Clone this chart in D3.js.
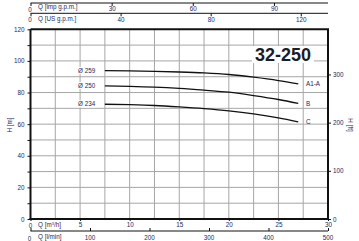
<!DOCTYPE html>
<html><head><meta charset="utf-8">
<script src="https://cdn.jsdelivr.net/npm/d3@7"></script>
<style>
html,body{margin:0;padding:0;background:#fff;}
svg{display:block;font-family:"Liberation Sans",Arial,sans-serif;}
</style></head>
<body>
<svg id="c" width="359" height="241"></svg>
<script>
// ---- data ----
const flowQ = [7.5, 10, 12.5, 15, 17.5, 20, 22.5, 25, 27];
const head259 = [93.8, 93.7, 93.4, 93.0, 92.4, 91.4, 89.7, 87.6, 85.5];
const head250 = [84.2, 83.9, 83.4, 82.6, 81.5, 80.2, 78.1, 75.6, 73.1];
const head234 = [72.6, 72.3, 71.8, 70.9, 69.8, 68.4, 66.5, 64.0, 61.5];
const curveNames = ["Ø 259", "Ø 250", "Ø 234"];
const curveTags = ["A1-A", "B", "C"];
const m3hTicks = [0, 5, 10, 15, 20, 25, 30];
const lminTicks = [0, 100, 200, 300, 400, 500];
const impTicks = [0, 30, 60, 90];
const usTicks = [0, 40, 80, 120];
const hmTicks = [0, 20, 40, 60, 80, 100, 120];
const hftTicks = [0, 100, 200, 300];
const title = "32-250";

// ---- layout ----
const svg = d3.select("#c");
const L = 30.5, R = 328, T = 29.3, B = 219;
const txt = "#23285a";
const fs = 6.3;
const x = d3.scaleLinear().domain([0, 30]).range([L, R]);
const y = d3.scaleLinear().domain([0, 120]).range([B, T]);
const xL = d3.scaleLinear().domain([0, 30 / 0.06]).range([L, R]);
const xImp = d3.scaleLinear().domain([0, 30 / 0.272765]).range([L, R]);
const xUS = d3.scaleLinear().domain([0, 30 / 0.227125]).range([L, R]);
const yFt = d3.scaleLinear().domain([0, 120 / 0.3048]).range([B, T]);

// grid
const g = svg.append("g");
g.selectAll("line.v").data(d3.range(2.5, 30, 2.5)).join("line")
  .attr("x1", d => x(d)).attr("x2", d => x(d)).attr("y1", T).attr("y2", B)
  .attr("stroke", "#a6a6a6").attr("stroke-width", 1);
g.selectAll("line.h").data(d3.range(10, 120, 10)).join("line")
  .attr("x1", L).attr("x2", R).attr("y1", d => y(d)).attr("y2", d => y(d))
  .attr("stroke", "#a6a6a6").attr("stroke-width", 1);

// title box
svg.append("rect").attr("x", 252).attr("y", 46).attr("width", 62).attr("height", 17).attr("fill", "#fff");
svg.append("text").attr("x", 255).attr("y", 60.5).attr("font-size", 18).attr("font-weight", "bold")
  .attr("fill", "#1c1c24").text(title);

// curves
const series = [head259, head250, head234];
const line = d3.line().x((d, i) => x(flowQ[i])).y(d => y(d)).curve(d3.curveMonotoneX);
series.forEach((s, k) => {
  svg.append("path").attr("d", line(s)).attr("fill", "none").attr("stroke", "#111").attr("stroke-width", 1.3);
  const lb = svg.append("text").attr("x", 78).attr("y", y(s[0]) + 2.2).attr("font-size", fs).attr("fill", txt).text(curveNames[k]);
  const bb = lb.node().getBBox();
  svg.insert("rect", "text").attr("x", bb.x - 1).attr("y", bb.y).attr("width", bb.width + 2).attr("height", bb.height).attr("fill", "#fff");
  svg.append("text").attr("x", 306).attr("y", y(s[s.length - 1]) + 2.2).attr("font-size", fs).attr("fill", txt).text(curveTags[k]);
});
// move labels above rects
svg.selectAll("text").raise();

// frame
const frame = svg.append("g").attr("stroke", "#111").attr("stroke-width", 2);
frame.append("line").attr("x1", L).attr("x2", R + 1).attr("y1", T).attr("y2", T);
frame.append("line").attr("x1", R).attr("x2", R).attr("y1", T).attr("y2", B);

// left axis
const ax = svg.append("g").attr("transform", `translate(${L},0)`)
  .call(d3.axisLeft(y).tickValues(d3.range(0, 121, 10)).tickSize(3).tickFormat(d => hmTicks.includes(d) ? d : ""));
// bottom axis
const bx = svg.append("g").attr("transform", `translate(0,${B})`)
  .call(d3.axisBottom(x).tickValues(m3hTicks).tickSize(2).tickFormat(d => d === 0 ? "" : d));
// right axis
const rx = svg.append("g").attr("transform", `translate(${R},0)`)
  .call(d3.axisRight(yFt).tickValues(hftTicks).tickSize(3));
// l/min axis
const lx = svg.append("g").attr("transform", `translate(0,231)`)
  .call(d3.axisTop(xL).tickValues(lminTicks).tickSize(3).tickFormat(() => ""));
// top axes
const ix = svg.append("g").attr("transform", `translate(0,3)`)
  .call(d3.axisBottom(xImp).tickValues(impTicks).tickSize(3).tickFormat(d => d === 0 ? "" : d));
const ux = svg.append("g").attr("transform", `translate(0,13.3)`)
  .call(d3.axisBottom(xUS).tickValues(usTicks).tickSize(3).tickFormat(d => d === 0 ? "" : d));

[ax, bx, rx, lx, ix, ux].forEach(a => {
  a.selectAll("text").attr("font-size", fs).attr("fill", txt).attr("font-family", "Liberation Sans, Arial, sans-serif");
  a.selectAll("line").attr("stroke", "#111");
});
ax.select(".domain").attr("stroke", "#111").attr("stroke-width", 2).attr("d", `M0,${T}V${B + 1}`);
bx.select(".domain").attr("stroke", "#111").attr("stroke-width", 2).attr("d", `M${L - 1},0H${R + 1}`);
rx.select(".domain").attr("stroke", "#111").attr("stroke-width", 2).attr("d", `M0,${T}V${B}`);
lx.select(".domain").attr("stroke", "#111").attr("stroke-width", 1).attr("d", `M${L},0H${R}`);
ix.select(".domain").attr("stroke", "#111").attr("stroke-width", 1).attr("d", `M${L},0H${R}`);
ux.select(".domain").attr("stroke", "#111").attr("stroke-width", 1).attr("d", `M${L},0H${R}`);
ax.selectAll("text").attr("x", -6);
bx.selectAll("text").attr("y", 4);
rx.selectAll("text").attr("x", 5);
ix.selectAll("text").attr("y", 3.5);
ux.selectAll("text").attr("y", 4.5);

// l/min labels below line
svg.append("g").selectAll("text").data(lminTicks.filter(d => d > 0)).join("text")
  .attr("x", d => xL(d)).attr("y", 240).attr("text-anchor", "middle")
  .attr("font-size", fs).attr("fill", txt).text(d => d);

// axis titles and zeros
const lab = (xx, yy, t, anchor) => svg.append("text").attr("x", xx).attr("y", yy)
  .attr("font-size", fs).attr("fill", txt).attr("text-anchor", anchor || "start").text(t);
lab(30, 11.5, "0", "middle");
lab(38, 9.3, "Q [imp g.p.m.]");
lab(30, 22.3, "0", "middle");
lab(38, 21, "Q [US g.p.m.]");
lab(30.5, 228, "0", "middle");
svg.append("text").attr("x", 38).attr("y", 227).attr("font-size", fs).attr("fill", txt)
  .html('Q [m<tspan font-size="4" dy="-2">3</tspan><tspan dy="2">/h]</tspan>');
lab(29.5, 241, "0", "middle");
lab(38, 239, "Q [l/min]");
svg.append("text").attr("transform", "translate(12,125) rotate(-90)").attr("text-anchor", "middle")
  .attr("font-size", fs).attr("fill", txt).text("H [m]");
svg.append("text").attr("transform", "translate(348,125) rotate(90)").attr("text-anchor", "middle")
  .attr("font-size", fs).attr("fill", txt).text("H [ft]");
</script>
</body></html>
